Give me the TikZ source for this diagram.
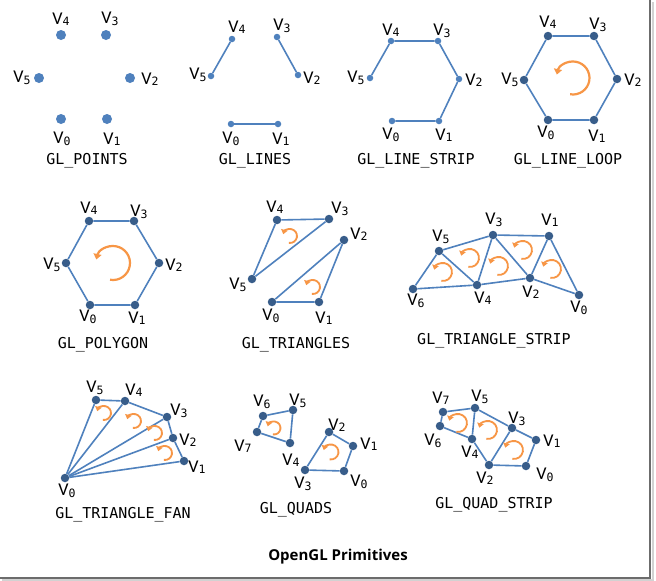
\documentclass[tikz,border=0pt]{standalone}
\usepackage{fontspec}
\usetikzlibrary{arrows.meta}
\newfontfamily\monof{DejaVu Sans Mono}
\newfontfamily\carl{Carlito}
\newfontfamily\opens{Open Sans}
\definecolor{lineblue}{RGB}{79,129,189}
\definecolor{dotdark}{RGB}{56,93,138}
\definecolor{arrorange}{RGB}{247,150,70}
\newcommand\vtx[1]{{\carl\fontsize{18}{18}\selectfont V}\raisebox{-1.5pt}{\monof\fontsize{11.5}{11.5}\selectfont #1}}
\tikzset{
  ptbig/.style={circle, fill=lineblue, inner sep=0, minimum size=10},
  ptsm/.style={circle, fill=lineblue, inner sep=0, minimum size=6.5},
  ptd/.style={circle, fill=dotdark, inner sep=0, minimum size=8.5},
  edge/.style={draw=lineblue, line width=1.6pt},
  lbl/.style={inner sep=0, anchor=center},
  ttl/.style={inner sep=0, anchor=center, font=\monof\fontsize{15}{15}\selectfont},
  carr/.style={draw=arrorange, line width=2.2pt, -{Triangle[length=5.5pt,width=8pt]}},
  carrs/.style={draw=arrorange, line width=1.8pt, -{Triangle[length=4.5pt,width=6.5pt]}}
}
\begin{document}
\begin{tikzpicture}[x=1pt,y=-1pt]
\useasboundingbox (0,0) rectangle (656,581);
\fill[white] (0,0) rectangle (651,578);
% frame shadow
\draw[gray!35, line width=1.5pt] (653,2) -- (653,580) -- (2,580);
\draw[gray!85!black, line width=1.6pt] (650,0) -- (650,578) -- (0,578);

% ---------------- GL_POINTS
\node[ptbig] (a4) at (61,35) {};
\node[ptbig] (a3) at (106,35) {};
\node[ptbig] (a5) at (39,78) {};
\node[ptbig] (a2) at (130,78) {};
\node[ptbig] (a0) at (61,119) {};
\node[ptbig] (a1) at (107,119) {};
\node[lbl] (la4) at (61,19) {\vtx4};
\node[lbl] (la3) at (110,19) {\vtx3};
\node[lbl] (la5) at (22,78) {\vtx5};
\node[lbl] (la2) at (150,79) {\vtx2};
\node[lbl] (la0) at (62,139) {\vtx0};
\node[lbl] (la1) at (112,139) {\vtx1};
\node[ttl] (ta) at (87,161) {GL\_POINTS};

% ---------------- GL_LINES
\node[ptsm] (b4) at (232,39) {};
\node[ptsm] (b3) at (277,37) {};
\node[ptsm] (b5) at (211,76) {};
\node[ptsm] (b2) at (298,75) {};
\node[ptsm] (b0) at (231,124) {};
\node[ptsm] (b1) at (278,124) {};
\draw[edge] (b5) -- (b4);
\draw[edge] (b3) -- (b2);
\draw[edge] (b0) -- (b1);
\node[lbl] (lb4) at (237,27) {\vtx4};
\node[lbl] (lb3) at (282,26) {\vtx3};
\node[lbl] (lb5) at (198,75) {\vtx5};
\node[lbl] (lb2) at (312,78) {\vtx2};
\node[lbl] (lb0) at (231,139) {\vtx0};
\node[lbl] (lb1) at (281,139) {\vtx1};
\node[ttl] (tb) at (255,161) {GL\_LINES};

% ---------------- GL_LINE_STRIP
\node[ptsm] (c4) at (391,41) {};
\node[ptsm] (c3) at (438,41) {};
\node[ptsm] (c5) at (370,78) {};
\node[ptsm] (c2) at (459,79) {};
\node[ptsm] (c0) at (392,121) {};
\node[ptsm] (c1) at (439,121) {};
\draw[edge] (c0) -- (c1) -- (c2) -- (c3) -- (c4) -- (c5);
\node[lbl] (lc4) at (391,30) {\vtx4};
\node[lbl] (lc3) at (442,31) {\vtx3};
\node[lbl] (lc5) at (356,78) {\vtx5};
\node[lbl] (lc2) at (474,80) {\vtx2};
\node[lbl] (lc0) at (391,135) {\vtx0};
\node[lbl] (lc1) at (444,135) {\vtx1};
\node[ttl] (tc) at (416,161) {GL\_LINE\_STRIP};

% ---------------- GL_LINE_LOOP
\node[ptd] (d4) at (548,36) {};
\node[ptd] (d3) at (594,36) {};
\node[ptd] (d5) at (524,80) {};
\node[ptd] (d2) at (617,79) {};
\node[ptd] (d0) at (548,120) {};
\node[ptd] (d1) at (594,120) {};
\draw[edge] (d0) -- (d1) -- (d2) -- (d3) -- (d4) -- (d5) -- (d0);
\node[lbl] (ld4) at (548,22) {\vtx4};
\node[lbl] (ld3) at (598,25) {\vtx3};
\node[lbl] (ld5) at (510,80) {\vtx5};
\node[lbl] (ld2) at (633,80) {\vtx2};
\node[lbl] (ld0) at (546,133) {\vtx0};
\node[lbl] (ld1) at (597,136) {\vtx1};
\coordinate (rd) at (573,78);
\draw[carr] (rd) ++(100:16.5) arc[start angle=100, end angle=-168, radius=16.5];
\node[ttl] (td) at (568,161) {GL\_LINE\_LOOP};

% ---------------- GL_POLYGON
\node[ptd] (e4) at (89,221) {};
\node[ptd] (e3) at (134,221) {};
\node[ptd] (e5) at (66,263) {};
\node[ptd] (e2) at (159,263) {};
\node[ptd] (e0) at (90,305) {};
\node[ptd] (e1) at (135,305) {};
\draw[edge] (e0) -- (e1) -- (e2) -- (e3) -- (e4) -- (e5) -- (e0);
\node[lbl] (le4) at (89,208) {\vtx4};
\node[lbl] (le3) at (139,212) {\vtx3};
\node[lbl] (le5) at (52,265) {\vtx5};
\node[lbl] (le2) at (174,265) {\vtx2};
\node[lbl] (le0) at (88,317) {\vtx0};
\node[lbl] (le1) at (137,318) {\vtx1};
\coordinate (re) at (113,263);
\draw[carr] (re) ++(100:17) arc[start angle=100, end angle=-168, radius=17];
\node[ttl] (te) at (103,345) {GL\_POLYGON};

% ---------------- GL_TRIANGLES
\node[ptd] (f4) at (277,220) {};
\node[ptd] (f3) at (329,219) {};
\node[ptd] (f2) at (344,240) {};
\node[ptd] (f5) at (252,279) {};
\node[ptd] (f0) at (272,302) {};
\node[ptd] (f1) at (319,302) {};
\draw[edge] (f0) -- (f1) -- (f2) -- (f0);
\draw[edge] (f3) -- (f4) -- (f5) -- (f3);
\node[lbl] (lf4) at (275,207) {\vtx4};
\node[lbl] (lf3) at (340,209) {\vtx3};
\node[lbl] (lf2) at (359,234) {\vtx2};
\node[lbl] (lf5) at (238,285) {\vtx5};
\node[lbl] (lf0) at (271,316) {\vtx0};
\node[lbl] (lf1) at (324,318) {\vtx1};
\coordinate (rf1) at (290,236);
\coordinate (rf2) at (313,287);
\draw[carrs] (rf1) ++(100:7) arc[start angle=100, end angle=-165, radius=7];
\draw[carrs] (rf2) ++(100:7) arc[start angle=100, end angle=-165, radius=7];
\node[ttl] (tf) at (296,345) {GL\_TRIANGLES};

% ---------------- GL_TRIANGLE_STRIP
\node[ptd] (g3) at (493,235) {};
\node[ptd] (g1) at (549,236) {};
\node[ptd] (g5) at (439,251) {};
\node[ptd] (g6) at (413,289) {};
\node[ptd] (g4) at (477,285) {};
\node[ptd] (g2) at (530,278) {};
\node[ptd] (g0) at (579,295) {};
\draw[edge] (g6) -- (g4) -- (g2) -- (g0) -- (g1) -- (g3) -- (g5) -- (g6);
\draw[edge] (g5) -- (g4) -- (g3) -- (g2) -- (g1);
\node[lbl] (lg3) at (494,220) {\vtx3};
\node[lbl] (lg1) at (550,220) {\vtx1};
\node[lbl] (lg5) at (441,237) {\vtx5};
\node[lbl] (lg6) at (416,301) {\vtx6};
\node[lbl] (lg4) at (483,298) {\vtx4};
\node[lbl] (lg2) at (531,292) {\vtx2};
\node[lbl] (lg0) at (579,308) {\vtx0};
\coordinate (rg1) at (443,272);
\coordinate (rg2) at (470,258);
\coordinate (rg3) at (499,266);
\coordinate (rg4) at (523,250);
\coordinate (rg5) at (552,269);
\foreach \c in {rg1,rg2,rg3,rg4,rg5}
  \draw[carrs] (\c) ++(100:9) arc[start angle=100, end angle=-165, radius=9];
\node[ttl] (tg) at (494,341) {GL\_TRIANGLE\_STRIP};

% ---------------- GL_TRIANGLE_FAN
\node[ptd] (h0) at (65,478) {};
\node[ptd] (h5) at (96,400) {};
\node[ptd] (h4) at (125,401) {};
\node[ptd] (h3) at (167,417) {};
\node[ptd] (h2) at (173,438) {};
\node[ptd] (h1) at (184,461) {};
\draw[edge] (h1) -- (h2) -- (h3) -- (h4) -- (h5);
\foreach \k in {1,...,5} \draw[edge] (h0) -- (h\k);
\node[lbl] (lh0) at (67,491) {\vtx0};
\node[lbl] (lh5) at (95,388) {\vtx5};
\node[lbl] (lh4) at (134,390) {\vtx4};
\node[lbl] (lh3) at (179,411) {\vtx3};
\node[lbl] (lh2) at (188,440) {\vtx2};
\node[lbl] (lh1) at (197,467) {\vtx1};
\coordinate (rh1) at (104,413);
\coordinate (rh2) at (134,421);
\coordinate (rh3) at (155,433);
\coordinate (rh4) at (165,453);
\foreach \c in {rh1,rh2,rh3,rh4}
  \draw[carrs] (\c) ++(100:7) arc[start angle=100, end angle=-165, radius=7];
\node[ttl] (th) at (123,515) {GL\_TRIANGLE\_FAN};

% ---------------- GL_QUADS
\node[ptd] (q6) at (263,416) {};
\node[ptd] (q5) at (293,410) {};
\node[ptd] (q7) at (257,432) {};
\node[ptd] (q4) at (290,443) {};
\node[ptd] (q2) at (329,432) {};
\node[ptd] (q1) at (353,446) {};
\node[ptd] (q0) at (344,471) {};
\node[ptd] (q3) at (305,470) {};
\draw[edge] (q7) -- (q6) -- (q5) -- (q4) -- (q7);
\draw[edge] (q3) -- (q2) -- (q1) -- (q0) -- (q3);
\node[lbl] (lq6) at (262,402) {\vtx6};
\node[lbl] (lq5) at (298,401) {\vtx5};
\node[lbl] (lq7) at (243,446) {\vtx7};
\node[lbl] (lq4) at (291,460) {\vtx4};
\node[lbl] (lq2) at (337,425) {\vtx2};
\node[lbl] (lq1) at (369,444) {\vtx1};
\node[lbl] (lq0) at (359,482) {\vtx0};
\node[lbl] (lq3) at (303,484) {\vtx3};
\coordinate (rq1) at (274,428);
\coordinate (rq2) at (331,452);
\draw[carrs] (rq1) ++(100:6.5) arc[start angle=100, end angle=-165, radius=6.5];
\draw[carrs] (rq2) ++(100:7.5) arc[start angle=100, end angle=-165, radius=7.5];
\node[ttl] (tq) at (296,510) {GL\_QUADS};

% ---------------- GL_QUAD_STRIP
\node[ptd] (s7) at (443,412) {};
\node[ptd] (s5) at (475,408) {};
\node[ptd] (s6) at (440,426) {};
\node[ptd] (s4) at (472,439) {};
\node[ptd] (s3) at (512,428) {};
\node[ptd] (s1) at (536,440) {};
\node[ptd] (s2) at (489,465) {};
\node[ptd] (s0) at (526,466) {};
\draw[edge] (s6) -- (s7) -- (s5) -- (s3) -- (s1) -- (s0) -- (s2) -- (s4) -- (s6);
\draw[edge] (s5) -- (s4);
\draw[edge] (s3) -- (s2);
\node[lbl] (ls7) at (441,398) {\vtx7};
\node[lbl] (ls5) at (480,397) {\vtx5};
\node[lbl] (ls6) at (433,441) {\vtx6};
\node[lbl] (ls4) at (470,452) {\vtx4};
\node[lbl] (ls3) at (517,419) {\vtx3};
\node[lbl] (ls1) at (552,441) {\vtx1};
\node[lbl] (ls2) at (485,478) {\vtx2};
\node[lbl] (ls0) at (545,475) {\vtx0};
\coordinate (rs1) at (458,423);
\coordinate (rs2) at (488,430);
\coordinate (rs3) at (514,450);
\foreach \c in {rs1,rs2,rs3}
  \draw[carrs] (\c) ++(100:9) arc[start angle=100, end angle=-165, radius=9];
\node[ttl] (ts) at (494,505) {GL\_QUAD\_STRIP};

% ---------------- caption
\node[inner sep=0, font=\opens\bfseries\fontsize{15}{15}\selectfont] (cap) at (338,557) {OpenGL Primitives};
\end{tikzpicture}
\end{document}
